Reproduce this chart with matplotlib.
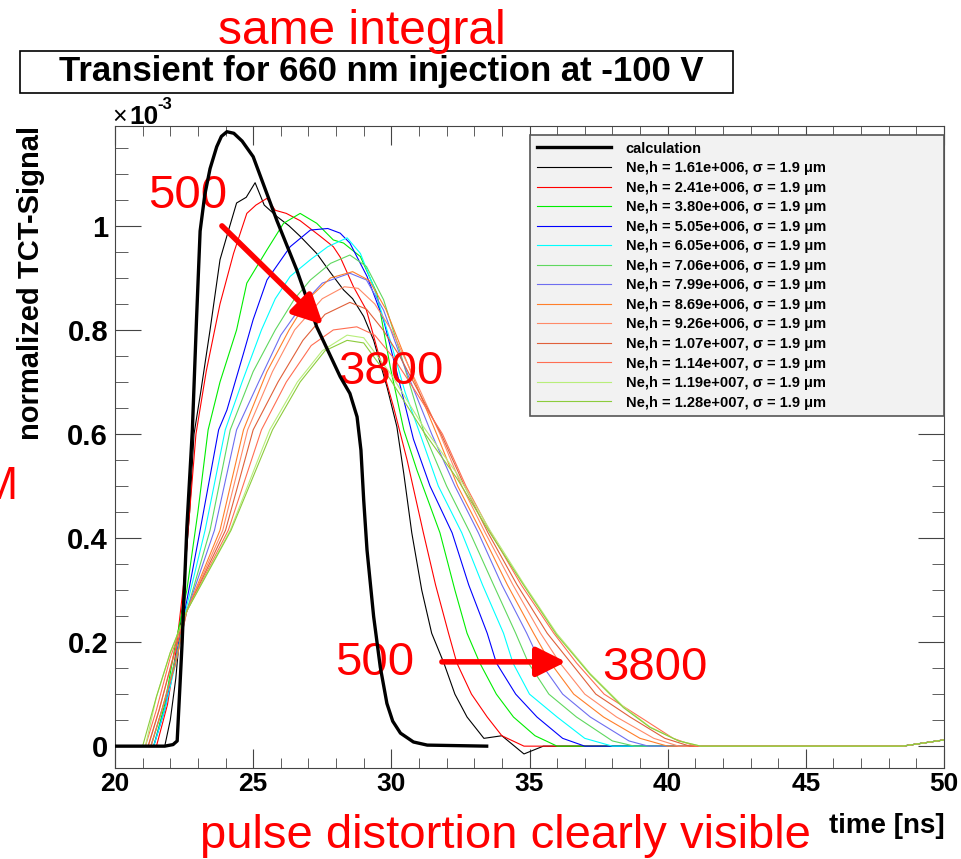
import matplotlib.pyplot as plt
from matplotlib.patches import Rectangle
from matplotlib.ticker import MultipleLocator, FuncFormatter

plt.rcParams['font.family'] = ['Liberation Sans', 'DejaVu Sans']

# values, signal in units of 1e-3
t_calc = [20, 21.8, 22.1, 22.25, 22.43, 22.6, 22.8, 22.95, 23.08, 23.25, 23.44, 23.68, 23.85, 24.05,
          24.3, 24.6, 25.0, 25.86, 26.58, 27.3, 28.15, 28.5, 28.76, 28.9, 29.0, 29.12, 29.36, 29.6,
          29.84, 30.05, 30.33, 30.8, 31.3, 33.45]
y_calc = [0, 0, 0.003, 0.01, 0.2, 0.42, 0.608, 0.82, 0.99, 1.06, 1.11, 1.152, 1.172, 1.181,
          1.178, 1.163, 1.133, 1.01, 0.915, 0.806, 0.71, 0.678, 0.633, 0.569, 0.473, 0.377, 0.249, 0.152,
          0.082, 0.048, 0.025, 0.008, 0.002, 0]

t_161 = [20, 21.8, 22.0, 22.2, 22.45, 22.7, 22.86, 23.1, 23.44, 23.8, 24.1, 24.4, 24.75, 25.07, 25.4,
         25.86, 26.3, 26.7, 27.3, 27.8, 28.27, 28.6, 29.0, 29.36, 29.84, 30.2, 30.45, 30.74, 31.1,
         31.46, 31.9, 32.3, 32.74, 33.35, 34.0, 34.8, 35.5, 48.5, 50]
y_161 = [0, 0, 0.05, 0.13, 0.28, 0.45, 0.6, 0.68, 0.8, 0.935, 0.99, 1.044, 1.055, 1.083, 1.04,
         1.018, 1.0, 0.98, 0.947, 0.91, 0.877, 0.86, 0.826, 0.78, 0.691, 0.614, 0.524, 0.41, 0.3,
         0.217, 0.16, 0.1, 0.056, 0.015, 0.02, -0.015, 0, 0, 0.012]

t_241 = [20, 21.5, 21.9, 22.2, 22.5, 22.7, 22.93, 23.3, 23.8, 24.29, 24.77, 25.1, 25.5, 25.8, 26.2,
         26.7, 27.43, 27.9, 28.15, 28.63, 29.1, 29.6, 30.08, 30.57, 31.16, 31.6, 32.07, 32.37,
         32.9, 33.47, 34.0, 34.8, 48.5, 50]
y_241 = [0, 0, 0.08, 0.18, 0.32, 0.45, 0.6, 0.72, 0.85, 0.947, 1.024, 1.04, 1.053, 1.03, 1.024,
         1.01, 0.98, 0.96, 0.94, 0.883, 0.838, 0.742, 0.652, 0.55, 0.41, 0.31, 0.217, 0.16,
         0.1, 0.056, 0.02, 0, 0, 0.012]

t_380 = [20, 21.4, 21.8, 22.2, 22.6, 23.0, 23.37, 23.8, 24.4, 24.77, 25.5, 26.1, 26.7, 27.3, 27.9,
         28.27, 28.88, 29.48, 29.96, 30.45, 30.93, 31.76, 32.3, 32.74, 33.2, 33.8, 34.42, 35.2, 36.0,
         48.5, 50]
y_380 = [0, 0, 0.08, 0.2, 0.3, 0.45, 0.608, 0.7, 0.8, 0.89, 0.954, 1.005, 1.024, 1.005, 0.973,
         0.967, 0.941, 0.87, 0.729, 0.608, 0.53, 0.41, 0.3, 0.217, 0.16, 0.1, 0.056, 0.02, 0,
         0, 0.012]

t_505 = [20, 21.4, 21.8, 22.2, 22.6, 23.08, 23.75, 24.05, 24.65, 25.0, 25.5, 26.34, 27.07, 27.7,
         28.15, 28.5, 29.12, 29.72, 30.33, 30.8, 31.4, 32.2, 32.8, 33.47, 33.8, 34.5, 35.27, 36.2,
         37.0, 48.5, 50]
y_505 = [0, 0, 0.07, 0.17, 0.28, 0.415, 0.608, 0.646, 0.755, 0.82, 0.896, 0.96, 0.992, 0.995,
         0.986, 0.967, 0.903, 0.819, 0.691, 0.59, 0.5, 0.41, 0.31, 0.217, 0.16, 0.1, 0.056, 0.015,
         0, 0, 0.012]

t_605 = [20, 21.4, 21.8, 22.2, 22.6, 23.26, 23.99, 24.6, 25.3, 25.8, 26.34, 27.07, 27.7, 28.4,
         28.88, 29.36, 29.96, 30.5, 31.04, 31.7, 32.55, 33.3, 34.06, 34.4, 35.0, 36.0, 37.0, 38.0,
         48.5, 50]
y_605 = [0, 0, 0.07, 0.16, 0.27, 0.415, 0.608, 0.7, 0.8, 0.86, 0.903, 0.935, 0.96, 0.977,
         0.947, 0.883, 0.78, 0.68, 0.6, 0.5, 0.41, 0.31, 0.217, 0.16, 0.1, 0.056, 0.015, 0,
         0, 0.012]

t_706 = [20, 21.3, 21.7, 22.2, 22.6, 23.44, 24.17, 25.0, 25.8, 26.5, 27.07, 27.8, 28.5, 29.1,
         29.72, 30.33, 31.2, 32.0, 32.85, 33.7, 34.5, 34.96, 35.7, 36.7, 38.0, 38.8, 48.5, 50]
y_706 = [0, 0, 0.07, 0.17, 0.26, 0.415, 0.608, 0.72, 0.8, 0.86, 0.896, 0.928, 0.944, 0.922,
         0.858, 0.755, 0.6, 0.5, 0.41, 0.31, 0.217, 0.16, 0.1, 0.056, 0.01, 0, 0, 0.012]

t_799 = [20, 21.3, 21.7, 22.2, 22.6, 23.6, 24.4, 25.2, 26.0, 26.8, 27.5, 28.5, 29.1, 29.72, 30.33,
         31.46, 32.3, 33.15, 34.0, 34.9, 35.4, 36.2, 37.2, 38.6, 39.3, 48.5, 50]
y_799 = [0, 0, 0.07, 0.16, 0.26, 0.415, 0.608, 0.7, 0.79, 0.85, 0.89, 0.909, 0.896, 0.838, 0.749,
         0.6, 0.5, 0.41, 0.31, 0.217, 0.16, 0.1, 0.056, 0.01, 0, 0, 0.012]

t_869 = [20, 21.3, 21.7, 22.2, 22.6, 23.8, 24.65, 25.5, 26.3, 27.0, 27.8, 28.6, 29.2, 29.8, 30.7,
         31.64, 32.4, 33.27, 34.2, 35.15, 35.76, 36.6, 37.68, 39.0, 40.0, 48.5, 50]
y_869 = [0, 0, 0.07, 0.16, 0.26, 0.415, 0.608, 0.72, 0.8, 0.86, 0.9, 0.912, 0.895, 0.84, 0.72,
         0.6, 0.5, 0.41, 0.31, 0.217, 0.16, 0.1, 0.056, 0.015, 0, 0, 0.012]

t_926 = [20, 21.2, 21.6, 22.1, 22.6, 23.9, 24.8, 25.7, 26.5, 27.5, 28.3, 28.8, 29.4, 30.0, 30.9,
         31.76, 32.55, 33.4, 34.4, 35.4, 36.1, 37.0, 38.15, 39.5, 40.4, 48.5, 50]
y_926 = [0, 0, 0.07, 0.17, 0.26, 0.415, 0.608, 0.72, 0.8, 0.86, 0.883, 0.88, 0.85, 0.8, 0.7,
         0.6, 0.5, 0.41, 0.31, 0.217, 0.16, 0.1, 0.056, 0.015, 0, 0, 0.012]

t_1070 = [20, 21.2, 21.6, 22.1, 22.6, 24.0, 25.0, 25.9, 26.8, 27.6, 28.5, 29.1, 29.7, 30.3, 31.0,
          31.8, 32.65, 33.5, 34.55, 35.64, 36.5, 37.4, 38.64, 39.9, 40.8, 48.5, 50]
y_1070 = [0, 0, 0.07, 0.17, 0.26, 0.415, 0.608, 0.7, 0.78, 0.83, 0.853, 0.84, 0.8, 0.75, 0.68,
          0.6, 0.5, 0.41, 0.31, 0.217, 0.16, 0.1, 0.056, 0.015, 0, 0, 0.012]

t_1140 = [20, 21.1, 21.5, 22.0, 22.6, 24.1, 25.3, 26.2, 27.1, 27.9, 28.75, 29.4, 30.1, 30.9,
          31.85, 32.7, 33.6, 34.7, 35.88, 36.7, 37.7, 39.0, 40.2, 41.0, 48.5, 50]
y_1140 = [0, 0, 0.07, 0.17, 0.26, 0.415, 0.608, 0.7, 0.77, 0.8, 0.806, 0.79, 0.745, 0.68,
          0.6, 0.5, 0.41, 0.31, 0.217, 0.16, 0.1, 0.056, 0.015, 0, 0, 0.012]

t_1190 = [20, 21.1, 21.5, 22.0, 22.6, 24.17, 25.6, 26.6, 27.5, 28.4, 29.0, 29.96, 31.16, 32.37,
          33.57, 34.78, 35.98, 37.19, 38.4, 39.36, 40.4, 41.2, 48.5, 50]
y_1190 = [0, 0, 0.095, 0.18, 0.26, 0.415, 0.608, 0.7, 0.76, 0.79, 0.785, 0.717, 0.614, 0.524,
          0.415, 0.313, 0.217, 0.14, 0.076, 0.037, 0.01, 0, 0, 0.012]

t_1280 = [20, 21.0, 21.5, 22.0, 22.6, 24.2, 25.7, 26.7, 27.6, 28.4, 29.0, 29.96, 31.16, 32.37,
          33.57, 34.78, 35.98, 37.19, 38.4, 39.36, 40.4, 41.2, 48.5, 50]
y_1280 = [0, 0, 0.095, 0.18, 0.26, 0.415, 0.608, 0.7, 0.76, 0.78, 0.775, 0.705, 0.605, 0.515,
          0.41, 0.31, 0.214, 0.138, 0.074, 0.036, 0.01, 0, 0, 0.012]

series_t = [t_161, t_241, t_380, t_505, t_605, t_706, t_799, t_869, t_926, t_1070, t_1140, t_1190, t_1280]
series_y = [y_161, y_241, y_380, y_505, y_605, y_706, y_799, y_869, y_926, y_1070, y_1140, y_1190, y_1280]
n_eh = ['1.61e+006', '2.41e+006', '3.80e+006', '5.05e+006', '6.05e+006', '7.06e+006', '7.99e+006',
        '8.69e+006', '9.26e+006', '1.07e+007', '1.14e+007', '1.19e+007', '1.28e+007']
colors = ['#000000', '#ff0000', '#00ee00', '#0000ff', '#00ffff', '#5fd85f', '#6e6ef0',
          '#ff7f2a', '#ff8a68', '#e0603a', '#ff6e52', '#b8ee7a', '#8ccc3c']

W, H = 962, 859


def px(x, y):
    return x / W, 1 - y / H


fig = plt.figure(figsize=(W / 100, H / 100), dpi=100)
ax = fig.add_axes([115 / W, 1 - 768 / H, 829 / W, 642 / H])

for t, y, n, c in zip(series_t, series_y, n_eh, colors):
    ax.plot(t, y, color=c, lw=0.8, label=f'Ne,h = {n}, σ = 1.9 μm')
ax.plot(t_calc, y_calc, color='black', lw=2.4, label='calculation', zorder=5)

ax.set_xlim(20, 50)
ax.set_ylim(-0.042, 1.192)
ax.xaxis.set_major_locator(MultipleLocator(5))
ax.xaxis.set_minor_locator(MultipleLocator(1))
ax.yaxis.set_major_locator(MultipleLocator(0.2))
ax.yaxis.set_minor_locator(MultipleLocator(0.05))
ax.yaxis.set_major_formatter(FuncFormatter(lambda v, p: f'{v:g}'))
ax.tick_params(which='both', direction='in', top=True, right=True, color='#444444')
ax.tick_params(axis='x', which='major', length=14, labelsize=19, pad=3)
ax.tick_params(axis='x', which='minor', length=7)
ax.tick_params(axis='y', which='major', length=19, labelsize=21, pad=5)
ax.tick_params(axis='y', which='minor', length=9)
for lab in ax.get_xticklabels() + ax.get_yticklabels():
    lab.set_fontweight('bold')
for s in ax.spines.values():
    s.set_color('#444444')

ax.set_ylabel('normalized TCT-Signal', fontsize=21, fontweight='bold', loc='top')
ax.yaxis.set_label_coords(-0.0845, 1.0)

# legend, calculation first
h, l = ax.get_legend_handles_labels()
leg = ax.legend([h[-1]] + h[:-1], [l[-1]] + l[:-1], loc='upper left',
                bbox_to_anchor=(0.5006, 0.986, 0.4994, 0.0), mode='expand',
                prop={'size': 10.5, 'weight': 'bold'}, frameon=True, fancybox=False,
                facecolor='#f2f2f2', edgecolor='#555555', framealpha=1,
                handlelength=5.1, handletextpad=1.0, labelspacing=0.38,
                borderpad=0.45, borderaxespad=0)
leg.get_frame().set_linewidth(1.2)

fig.text(*px(945, 833), 'time [ns]', ha='right', va='baseline', fontsize=20, fontweight='bold')
fig.text(*px(112, 124), '×', ha='left', va='baseline', fontsize=18)
fig.text(*px(129, 124), '10', ha='left', va='baseline', fontsize=19, fontweight='bold')
fig.text(*px(157, 109), '-3', ha='left', va='baseline', fontsize=12, fontweight='bold')

# title box
fig.add_artist(Rectangle(px(20, 93), 713 / W, 42 / H, transform=fig.transFigure,
                         facecolor='white', edgecolor='black', lw=1.2))
fig.text(*px(381, 72), 'Transient for 660 nm injection at -100 V', ha='center', va='center',
         fontsize=25, fontweight='bold')

# red annotations
red = '#ff0000'
fig.text(*px(362, 31), 'same integral', ha='center', va='center', fontsize=34.5, color=red)
fig.text(*px(505, 836), 'pulse distortion clearly visible', ha='center', va='center',
         fontsize=34, color=red)
fig.text(*px(17, 487), 'M', ha='right', va='center', fontsize=33, color=red)

ax.text(22.64, 1.058, '500', ha='center', va='center', fontsize=34, color=red)
ax.text(29.99, 0.719, '3800', ha='center', va='center', fontsize=34, color=red)
ax.text(29.41, 0.16, '500', ha='center', va='center', fontsize=34, color=red)
ax.text(39.54, 0.15, '3800', ha='center', va='center', fontsize=34, color=red)

arrow = dict(arrowstyle='-|>,head_length=0.9,head_width=0.45', lw=4, color=red,
             mutation_scale=20, shrinkA=0, shrinkB=0)
ax.annotate('', xy=(27.53, 0.81), xytext=(23.87, 1.0), arrowprops=arrow, zorder=6)
ax.annotate('', xy=(36.32, 0.162), xytext=(31.83, 0.162), arrowprops=arrow, zorder=6)

fig.savefig('out.png', dpi=100)
